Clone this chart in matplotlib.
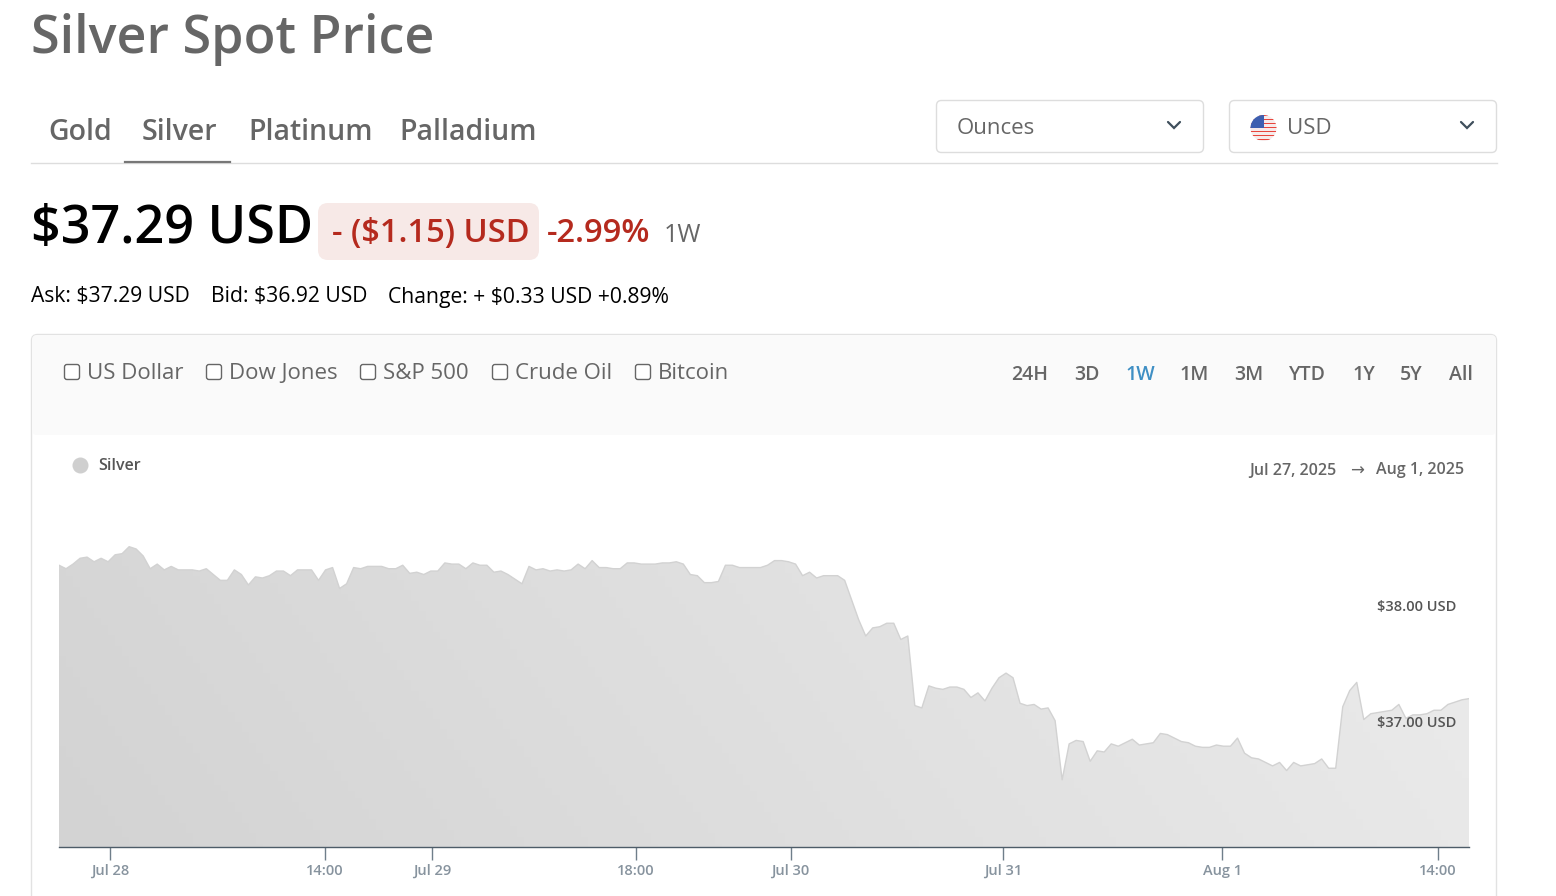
import numpy as np
from matplotlib import pyplot as plt
from matplotlib.patches import FancyBboxPatch, Circle, Rectangle

plt.rcParams['font.family'] = ['Open Sans', 'DejaVu Sans']

# silver price, USD
prices_a = [38.36, 38.33, 38.37, 38.42, 38.43, 38.39, 38.42, 38.39, 38.45, 38.46, 38.52, 38.50, 38.44, 38.33,
            38.37, 38.32, 38.35, 38.32, 38.32, 38.32, 38.31, 38.33, 38.28, 38.23, 38.23, 38.32, 38.28, 38.19,
            38.26, 38.25, 38.27, 38.31, 38.31, 38.27, 38.32, 38.32, 38.32, 38.23, 38.32, 38.34, 38.16, 38.20,
            38.34, 38.33, 38.35, 38.35, 38.35, 38.33, 38.33, 38.36, 38.29, 38.30, 38.28, 38.31, 38.31, 38.38,
            38.37, 38.37, 38.33, 38.38, 38.36, 38.36, 38.30, 38.31, 38.28, 38.24, 38.20, 38.35, 38.32]
prices_b = [38.33, 38.31, 38.32, 38.31, 38.32, 38.37, 38.33, 38.40, 38.34, 38.34, 38.33, 38.33, 38.38, 38.38,
            38.37, 38.37, 38.37, 38.38, 38.38, 38.39, 38.37, 38.28, 38.27, 38.21, 38.21, 38.22, 38.36, 38.36,
            38.34, 38.34, 38.34, 38.34, 38.36, 38.40, 38.40, 38.39, 38.37, 38.27, 38.30, 38.25, 38.27, 38.27,
            38.27, 38.23, 38.06, 37.89, 37.75, 37.82, 37.83, 37.86, 37.86, 37.72, 37.75, 37.15, 37.13, 37.32,
            37.30, 37.29, 37.31, 37.31, 37.29, 37.22, 37.26, 37.19, 37.30, 37.39, 37.43, 37.39, 37.17, 37.15]
prices_c = [37.16, 37.12, 37.13, 37.02, 36.51, 36.82, 36.85, 36.84, 36.67, 36.76, 36.75, 36.82, 36.80, 36.83,
            36.86, 36.81, 36.82, 36.83, 36.91, 36.90, 36.87, 36.84, 36.83, 36.80, 36.79, 36.79, 36.81, 36.80,
            36.80, 36.87, 36.74, 36.70, 36.69, 36.66, 36.63, 36.66, 36.59, 36.66, 36.63, 36.64, 36.65, 36.69,
            36.61, 36.61, 37.14, 37.28, 37.35, 37.03, 37.08, 37.09, 37.10, 37.11, 37.16, 37.04, 37.07, 37.07,
            37.08, 37.11, 37.11, 37.16, 37.18, 37.20, 37.21]
prices = prices_a + prices_b + prices_c

x_tick_pos = [7.27, 37.9, 53.2, 82.25, 104.3, 134.6, 165.8, 196.6]
x_tick_labels = ['Jul 28', '14:00', 'Jul 29', '18:00', 'Jul 30', 'Jul 31', 'Aug 1', '14:00']
y_ticks = [37, 38]
y_tick_labels = ['$37.00 USD', '$38.00 USD']

metals = ['Gold', 'Silver', 'Platinum', 'Palladium']
metal_x = [48, 142, 248, 399]
compare = ['US Dollar', 'Dow Jones', 'S&P 500', 'Crude Oil', 'Bitcoin']
compare_x = [64, 206, 360, 492, 635]
ranges = ['24H', '3D', '1W', '1M', '3M', 'YTD', '1Y', '5Y', 'All']
range_x = [1029.5, 1086.5, 1140, 1194.5, 1249, 1307.5, 1363.5, 1411.5, 1461]

W, H = 1556, 896
fig = plt.figure(figsize=(W / 100, H / 100), dpi=100, facecolor='white')

# page furniture in pixel coordinates
ui = fig.add_axes([0, 0, 1, 1], zorder=0)
ui.set_xlim(0, W)
ui.set_ylim(H, 0)
ui.axis('off')

GREY = '#666666'


def box(x, y, w, h, fc, ec, r=5, ax=ui, lw=1.0, z=1):
    p = FancyBboxPatch((x + r, y + r), w - 2 * r, h - 2 * r, boxstyle=f'round,pad={r},rounding_size={r}',
                       fc=fc, ec=ec, lw=lw, zorder=z)
    ax.add_patch(p)
    return p


def chevron(cx, cy):
    ui.plot([cx - 6, cx, cx + 6], [cy - 3, cy + 3, cy - 3], color='#3f4f5c', lw=1.6, solid_capstyle='round',
            solid_joinstyle='miter')


ui.text(31, 40, 'Silver Spot Price', fontsize=37.5, fontweight='semibold', color=GREY, va='center')

for name, x in zip(metals, metal_x):
    ui.text(x, 132, name, fontsize=20.5, fontweight='semibold', color=GREY, va='center')
ui.plot([31, 1497], [163.5, 163.5], color='#dddddd', lw=1)
ui.plot([125, 230], [162.5, 162.5], color='#777777', lw=1.6)

box(936.5, 100.5, 267, 52, 'white', '#dddddd')
box(1229.5, 100.5, 267, 52, 'white', '#dddddd')
ui.text(957, 128, 'Ounces', fontsize=16, color=GREY, va='center')
ui.text(1287, 128, 'USD', fontsize=16, color=GREY, va='center')
chevron(1174, 125)
chevron(1467, 125)

# flag
flag_clip = Circle((1263.5, 128), 13, transform=ui.transData)
stripes = [Rectangle((1250, 115 + i * 2), 27, 1, fc='#e8453c', ec='none', zorder=3) for i in range(0, 13, 2)]
ui.add_patch(Circle((1263.5, 128), 13, fc='#f6eaea', ec='none', zorder=2))
for s in stripes:
    ui.add_patch(s)
    s.set_clip_path(flag_clip)
canton = Rectangle((1250, 115), 14, 13, fc='#3d5fb0', ec='none', zorder=4)
ui.add_patch(canton)
canton.set_clip_path(flag_clip)

ui.text(31, 229, '$37.29 USD', fontsize=37.5, fontweight='semibold', color='black', va='center')
box(318, 203, 221, 57, '#f7e9e7', 'none', r=10)
ui.text(332, 233, '- ($1.15) USD', fontsize=23.5, fontweight='semibold', color='#b52a1e', va='center', zorder=3)
ui.text(547, 233, '-2.99%', fontsize=23.5, fontweight='semibold', color='#b52a1e', va='center')
ui.text(664, 235, '1W', fontsize=18, color=GREY, va='center')
ui.text(31, 297, 'Ask: $37.29 USD', fontsize=15.2, color='black', va='center')
ui.text(211, 297, 'Bid: $36.92 USD', fontsize=15.2, color='black', va='center')
ui.text(388, 297, 'Change: + $0.33 USD +0.89%', fontsize=15.2, color='black', va='center')

# chart card, runs off the bottom of the page
box(31.5, 334.5, 1465, 600, 'white', '#e2e2e2', r=6)
box(32, 335, 1464, 100, '#fafafa', 'none', r=5)
for name, x in zip(compare, compare_x):
    box(x + 0.5, 364.5, 15, 15, 'white', '#666666', r=2.5, z=2)
    ui.text(x + 23, 373.5, name, fontsize=16, color=GREY, va='center')
for name, x in zip(ranges, range_x):
    active = name == '1W'
    ui.text(x, 374.5, name, fontsize=14, fontweight='semibold', color='#3f8fc4' if active else GREY,
            va='center', ha='center')

ui.add_patch(Circle((80.5, 465.5), 8, fc='#cfcfcf', ec='none', zorder=2))
ui.text(98, 466, 'Silver', fontsize=11.5, fontweight='semibold', color='#555555', va='center')
ui.text(1336.5, 470.5, 'Jul 27, 2025', fontsize=11.5, fontweight='semibold', color=GREY, va='center', ha='right')
ui.text(1357, 471, '→', fontsize=12, color=GREY, va='center', ha='center', family=['DejaVu Sans'])
ui.text(1464, 470.5, 'Aug 1, 2025', fontsize=11.5, fontweight='semibold', color=GREY, va='center', ha='right')

# area chart
left, right, bottom, top = 59, 1469, 847, 500
ax = fig.add_axes([left / W, 1 - bottom / H, (right - left) / W, (bottom - top) / H], zorder=1)
ax.patch.set_alpha(0)
xs = np.arange(len(prices))
ax.set_xlim(0, len(prices) - 1)
ax.set_ylim(37 + (723 - bottom) / 116, 37 + (723 - top) / 116)

area = ax.fill_between(xs, prices, ax.get_ylim()[0], color='none', lw=0)
u, v = np.meshgrid(np.linspace(0, 1, 200), np.linspace(1, 0, 100))
grad = ax.imshow(0.85 * u + 0.15 * v, extent=[*ax.get_xlim(), *ax.get_ylim()], origin='upper', aspect='auto',
                 cmap=plt.matplotlib.colors.LinearSegmentedColormap.from_list('g', ['#d3d3d3', '#ececec']),
                 vmin=0, vmax=1, zorder=1)
path = area.get_paths()[0]
grad.set_clip_path(path, transform=ax.transData)
ax.set_xlim(0, len(prices) - 1)
ax.plot(xs, prices, color='#d2d2d2', lw=1.0, zorder=2)

for s in ['top', 'left', 'right']:
    ax.spines[s].set_visible(False)
ax.spines['bottom'].set_color('#4d5c68')
ax.spines['bottom'].set_linewidth(1.0)
ax.set_yticks([])
ax.set_xticks(x_tick_pos, x_tick_labels, fontsize=10.5, fontweight='semibold', color='#87939e')
ax.tick_params(axis='x', length=9, width=1.0, color='#6f7e8a', pad=3)

for val, label in zip(y_ticks, y_tick_labels):
    ax.annotate(label, (1, val), xycoords=('axes fraction', 'data'), xytext=(-13 * 0.72, 0), textcoords='offset points',
                ha='right', va='center', fontsize=10.5, fontweight='semibold', color='#555555', zorder=3)

fig.savefig('out.png', dpi=100)
